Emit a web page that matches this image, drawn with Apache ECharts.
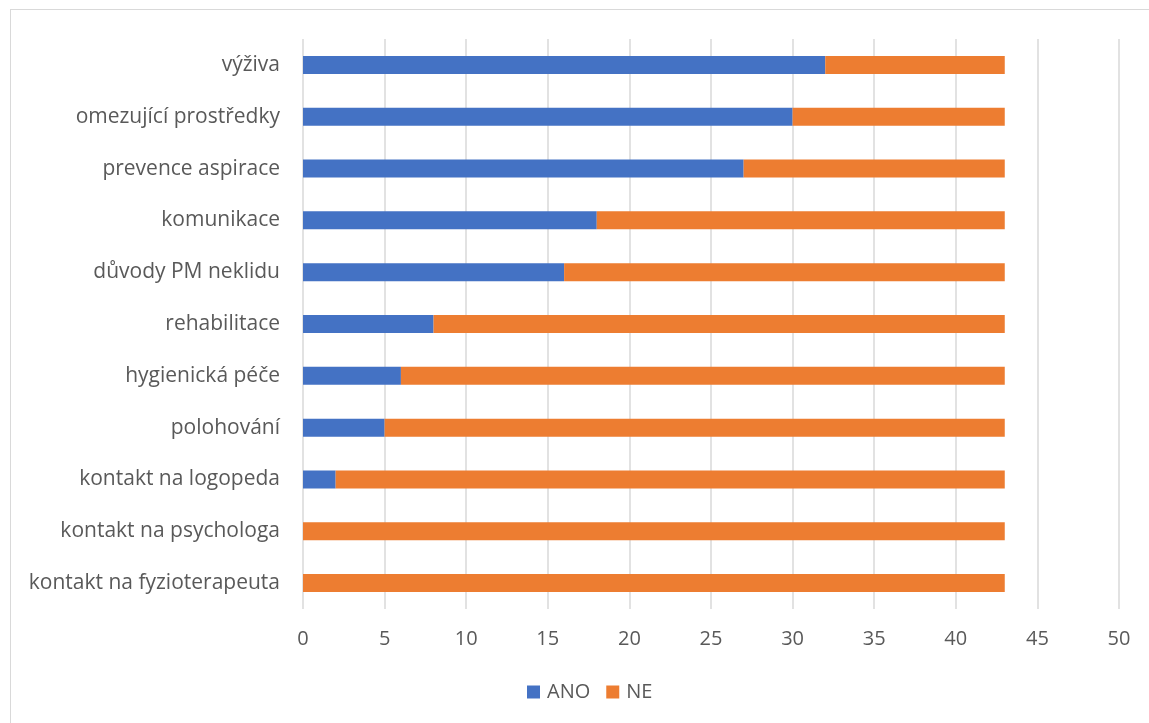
<!DOCTYPE html>
<html>
<head>
<meta charset="utf-8">
<script src="https://cdn.jsdelivr.net/npm/echarts@6/dist/echarts.min.js"></script>
<style>
  html, body { margin: 0; padding: 0; background: #ffffff; }
  #frame { position: absolute; left: 10px; top: 9px; width: 1160px; height: 740px; border: 1px solid #d9d9d9; box-sizing: border-box; }
  #chart { position: absolute; left: 0; top: 0; width: 1149px; height: 723px; }
</style>
</head>
<body>
<div id="frame"></div>
<div id="chart"></div>
<script>
// Care topics (bottom to top, as drawn on the category axis)
const categories = [
  'kontakt na fyzioterapeuta',
  'kontakt na psychologa',
  'kontakt na logopeda',
  'polohování',
  'hygienická péče',
  'rehabilitace',
  'důvody PM neklidu',
  'komunikace',
  'prevence aspirace',
  'omezující prostředky',
  'výživa'
];
const ano = [0, 0, 2, 5, 6, 8, 16, 18, 27, 30, 32];
const ne  = [43, 43, 41, 38, 37, 35, 27, 25, 16, 13, 11];
const seriesNames = ['ANO', 'NE'];

const textColor = '#595959';
const fontFamily = '"Open Sans", "Noto Sans", sans-serif';
const fontSize = 20;

const chart = echarts.init(document.getElementById('chart'), null, { renderer: 'canvas' });
chart.setOption({
  animation: false,
  backgroundColor: 'transparent',
  grid: { left: 303, right: 30, top: 39, bottom: 114, containLabel: false },
  legend: {
    bottom: 16,
    left: 522,
    itemWidth: 13,
    itemHeight: 13,
    itemGap: 16,
    icon: 'rect',
    textStyle: { color: textColor, fontSize: fontSize, fontFamily: fontFamily, padding: [0, 0, 0, 2] },
    data: seriesNames
  },
  xAxis: {
    type: 'value',
    min: 0,
    max: 50,
    interval: 5,
    axisLine: { show: false },
    axisTick: { show: false },
    splitLine: { show: true, lineStyle: { color: '#d9d9d9', width: 1.5 } },
    axisLabel: { color: textColor, fontSize: fontSize, fontFamily: fontFamily, margin: 20 }
  },
  yAxis: {
    type: 'category',
    data: categories,
    axisLine: { show: false },
    axisTick: { show: false },
    axisLabel: { color: textColor, fontSize: 21, fontFamily: fontFamily, margin: 23 }
  },
  series: [
    { name: seriesNames[0], type: 'bar', stack: 'total', data: ano, barWidth: 18, itemStyle: { color: '#4472C4' } },
    { name: seriesNames[1], type: 'bar', stack: 'total', data: ne, barWidth: 18, itemStyle: { color: '#ED7D31' } }
  ]
});
</script>
</body>
</html>
